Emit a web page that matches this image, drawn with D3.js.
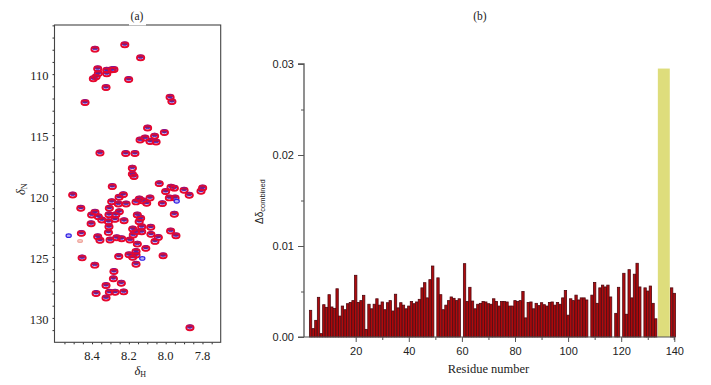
<!DOCTYPE html>
<html><head><meta charset="utf-8">
<script src="https://cdnjs.cloudflare.com/ajax/libs/d3/7.8.5/d3.min.js"></script>
<style>html,body{margin:0;background:#fff}svg{display:block}text{fill:#222}</style>
</head><body><svg id="c" width="711" height="385"></svg>
<script>
// Panel (a): peak positions (1H ppm, 15N ppm)
const peakH=[8.384,8.222,8.136,8.369,8.320,8.293,8.281,8.366,8.320,8.393,8.378,8.201,8.324,8.438,7.976,7.966,8.098,8.007,8.060,8.112,8.139,8.085,8.052,8.357,8.217,8.167,8.181,8.181,8.172,8.290,8.035,7.971,7.953,8.000,7.900,7.872,7.799,7.808,8.505,8.230,8.253,8.085,8.143,8.161,8.103,8.127,7.980,7.949,8.018,8.293,8.257,8.215,8.461,8.306,8.252,8.270,8.384,8.402,8.308,8.366,8.347,8.311,8.275,8.154,7.953,8.136,8.144,8.226,8.405,8.308,8.130,8.081,8.179,8.161,8.130,7.973,7.944,8.311,8.458,8.369,8.357,8.302,8.266,8.239,8.194,8.176,8.080,8.040,8.058,8.154,8.108,8.161,8.199,8.179,8.161,8.014,8.255,8.454,8.385,8.161,8.281,8.284,8.324,8.241,8.378,8.306,8.275,8.228,8.324,7.868];
const peakN=[107.92,107.56,108.63,109.53,109.65,109.61,109.59,109.92,109.94,110.35,110.19,110.41,111.07,112.30,111.87,112.22,114.39,114.75,115.05,115.21,115.37,115.49,115.54,116.44,116.48,116.48,117.68,118.17,118.37,119.19,118.95,119.24,119.32,119.60,119.49,119.90,119.30,119.57,119.88,119.85,120.07,120.12,120.21,120.45,120.56,120.35,120.12,120.12,120.59,120.43,120.62,120.62,120.97,120.97,121.25,121.50,121.30,121.52,121.50,121.66,121.93,122.07,121.88,121.52,121.46,121.79,122.07,121.99,122.24,122.49,122.49,122.53,122.67,122.90,122.90,122.84,123.23,122.95,123.03,123.31,123.60,123.58,123.39,123.47,123.58,123.17,123.11,123.36,123.69,123.91,124.26,124.51,124.79,125.00,124.81,124.87,124.92,125.04,125.64,125.56,126.16,126.75,127.31,127.12,127.96,127.86,127.86,127.83,128.33,130.77];
const blueOnlyH=[7.940,8.527,8.127];
const blueOnlyN=[120.43,123.25,125.12];
const paleH=[8.465];
const paleN=[123.68];
const hTicks=[8.4,8.2,8.0,7.8];
const nTicks=[110,115,120,125,130];

// Panel (b): combined chemical shift change per residue (0 = no bar)
const firstResidue=3;
const shifts=[2.93,0.92,1.83,4.36,0.37,3.55,3.26,4.65,3.3,3.15,5.3,2.3,3.4,3.0,3.66,3.8,4.0,6.78,3.8,4.0,4.58,0.84,3.6,3.1,3.6,4.2,3.5,3.85,3.0,3.77,4.0,2.86,4.7,3.2,3.77,3.5,3.1,3.4,3.9,3.66,3.85,4.14,5.4,5.97,4.3,6.3,7.8,0,6.5,4.65,3.0,3.5,4.0,4.4,4.25,4.0,4.2,0,8.06,3.9,5.46,3.95,3.1,3.6,3.7,3.9,3.85,3.66,3.6,4.2,3.9,3.4,3.9,3.9,3.85,3.4,3.4,4.0,3.9,4.0,5.0,2.1,3.8,3.85,3.1,3.7,3.45,3.77,3.55,3.4,3.8,3.85,3.5,3.8,3.6,4.3,5.1,2.4,4.2,4.0,4.6,4.07,4.3,4.3,4.07,0,4.6,6.0,3.7,5.4,5.7,5.5,5.7,4.4,0,2.6,5.46,0,7.0,2.5,7.4,4.3,6.9,8.1,5.5,0,5.4,5.05,5.6,3.7,2.0,0,0,0,0,0,5.4,4.8];
const highlight={from:133.8,to:138.3,value:0.0295};
const yTicksB=[0,0.01,0.02,0.03];
const xTicksB=[20,40,60,80,100,120,140];

const svg=d3.select("#c");
const serif="'Liberation Serif','Times New Roman',serif", sans="'Liberation Sans',Arial,sans-serif";

// ---------- panel a ----------
const A={l:54.5,t:25,r:220.7,b:342.3};
const xA=d3.scaleLinear().domain([8.604,7.701]).range([A.l,A.r]);
const yA=d3.scaleLinear().domain([105.97,132]).range([A.t,A.b]);
const ga=svg.append("g");
const blue="#3322e6", red="#e6082f";
const drawPeaks=(H,N,col,w,rx,ry,fill,dx,dy)=>ga.append("g").selectAll("ellipse").data(H).join("ellipse")
  .attr("cx",(d,i)=>xA(d)+dx).attr("cy",(d,i)=>yA(N[i])+dy)
  .attr("rx",rx).attr("ry",ry).attr("fill",fill).attr("stroke",col).attr("stroke-width",w);
drawPeaks(peakH,peakN,red,1.7,3.7,2.6,"none",0,0.4);
drawPeaks(peakH,peakN,blue,0.7,2.9,1.8,"#8c1c66",0,-0.7);
drawPeaks(peakH,peakN,red,1.2,3.5,2.3,"none",0,0.5);
drawPeaks(blueOnlyH,blueOnlyN,blue,1.2,2.6,1.8,"#b9b4f2",0,0);
drawPeaks(paleH,paleN,"#f0a8a0",1.2,2.4,1.4,"#f6d0c8",0,0);

const yAxisA=d3.axisLeft(yA).tickValues(d3.range(106,132)).tickSize(2).tickFormat(d=>nTicks.includes(d)?d:"");
const xAxisA=d3.axisBottom(xA).tickValues(d3.range(7.75,8.6,0.05)).tickSize(2).tickFormat("");
ga.append("g").attr("transform",`translate(${A.l},0)`).call(yAxisA)
  .call(g=>{g.select(".domain").remove();g.selectAll("line").attr("stroke","#333");
    g.selectAll("text").attr("font-family",serif).attr("font-size",12.5).attr("fill","#222").attr("x",-6).attr("dy","0.42em");});
ga.append("g").attr("transform",`translate(0,${A.b})`).call(xAxisA)
  .call(g=>{g.select(".domain").remove();g.selectAll("line").attr("stroke","#333");});
ga.append("g").selectAll("text").data(hTicks).join("text")
  .attr("x",d=>xA(d)).attr("y",A.b+17.5).attr("text-anchor","middle")
  .attr("font-family",serif).attr("font-size",12.5).text(d=>d.toFixed(1));
ga.append("rect").attr("x",A.l).attr("y",A.t).attr("width",A.r-A.l).attr("height",A.b-A.t)
  .attr("fill","none").attr("stroke","#444").attr("stroke-width",1.1);
ga.append("rect").attr("x",129).attr("y",22).attr("width",17).attr("height",3.4).attr("fill","#fff");
const txt=(g,x,y,s,f,fs)=>g.append("text").attr("x",x).attr("y",y).attr("font-family",f).attr("font-size",fs).text(s);
txt(ga,137,20,"(a)",serif,11.5).attr("text-anchor","middle");
const dh=txt(ga,134.5,375,"",serif,12.5);
dh.append("tspan").attr("font-style","italic").text("δ");
dh.append("tspan").attr("font-size",8).attr("dy",2).text("H");
const dn=ga.append("text").attr("transform","translate(25,195) rotate(-90)").attr("font-family",serif).attr("font-size",12.5);
dn.append("tspan").attr("font-style","italic").text("δ");
dn.append("tspan").attr("font-size",8).attr("dy",2).text("N");

// ---------- panel b ----------
const B={l:304,b:337,t:64};
const xB=d3.scaleLinear().domain([20,140]).range([355.7,674.3]);
const yB=d3.scaleLinear().domain([0,0.03]).range([B.b,B.t]);
const gb=svg.append("g");
const bw=xB(1)-xB(0);
const residues=shifts.map((v,i)=>({r:firstResidue+i,v:v/1000})).filter(d=>d.v>0);
gb.append("g").selectAll("rect").data(residues).join("rect")
  .attr("x",d=>xB(d.r)-bw/2+0.15).attr("y",d=>yB(d.v))
  .attr("width",bw-0.3).attr("height",d=>yB(0)-yB(d.v))
  .attr("fill","#b00a0c").attr("stroke","#4e0810").attr("stroke-width",0.8);
gb.append("rect").attr("x",xB(highlight.from)).attr("y",yB(highlight.value))
  .attr("width",xB(highlight.to)-xB(highlight.from)).attr("height",yB(0)-yB(highlight.value))
  .attr("fill","#dedd7c");
const yAxisB=d3.axisLeft(yB).tickValues(yTicksB).tickSize(6).tickPadding(4).tickFormat(d3.format(".2f"));
gb.append("g").attr("transform",`translate(${B.l},0)`).call(yAxisB)
  .call(g=>{g.select(".domain").attr("d",`M-6,${B.t}H0V${B.b}`).attr("stroke","#555").attr("stroke-width",1.3);
    g.selectAll("line").attr("stroke","#555");
    g.selectAll("text").attr("font-family",sans).attr("font-size",11).attr("fill","#333");});
gb.append("g").attr("transform",`translate(${B.l},0)`).call(d3.axisLeft(yB).tickValues([0.005,0.015,0.025]).tickSize(3).tickFormat(""))
  .call(g=>{g.select(".domain").remove();g.selectAll("line").attr("stroke","#555");});
const xAxisB=d3.axisBottom(xB).tickValues(xTicksB).tickSize(5).tickPadding(5);
gb.append("g").attr("transform",`translate(0,${B.b})`).call(xAxisB)
  .call(g=>{g.select(".domain").attr("d",`M${B.l-6},0H${xB(140)}V3`).attr("stroke","#555").attr("stroke-width",1.2);
    g.selectAll("line").attr("stroke","#555");
    g.selectAll("text").attr("font-family",sans).attr("font-size",11).attr("fill","#333");});
gb.append("g").attr("transform",`translate(0,${B.b})`).call(d3.axisBottom(xB).tickValues(d3.range(30,140,20)).tickSize(3).tickFormat(""))
  .call(g=>{g.select(".domain").remove();g.selectAll("line").attr("stroke","#555");});
txt(gb,480,20,"(b)",serif,11.5).attr("text-anchor","middle");
txt(gb,488.5,373,"Residue number",serif,12.5).attr("text-anchor","middle");
const yl=gb.append("text").attr("transform","translate(263,224) rotate(-90)").attr("font-family",sans).attr("font-size",10);
yl.append("tspan").text("Δδ");
yl.append("tspan").attr("font-size",7.5).attr("dy",2).text("combined");
</script></body></html>
